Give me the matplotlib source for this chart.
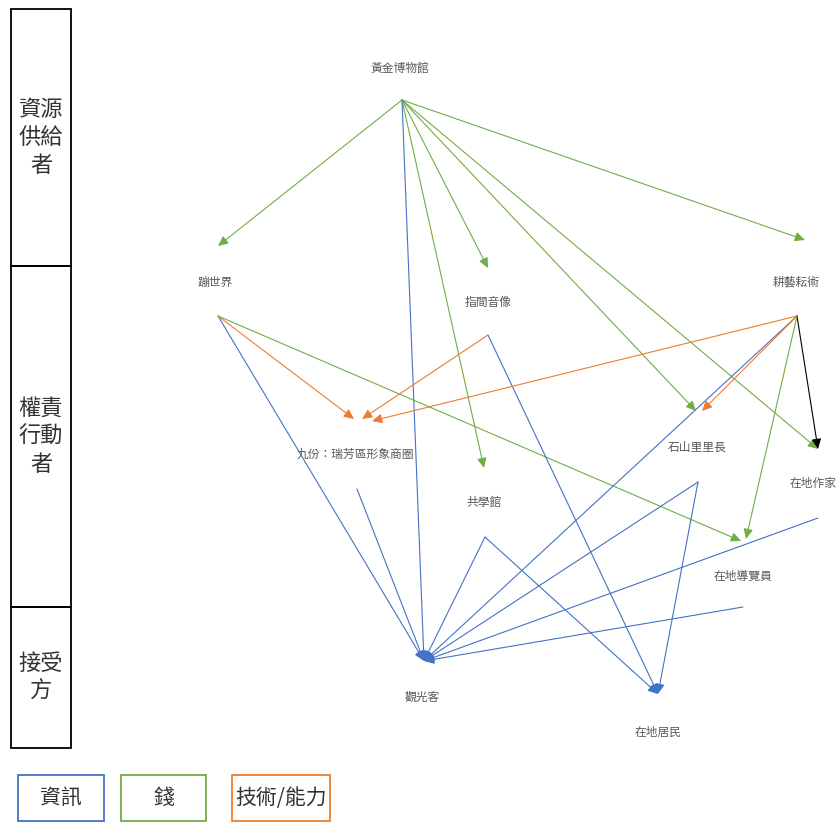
import matplotlib.pyplot as plt
from matplotlib.patches import FancyArrowPatch, Rectangle

plt.rcParams['font.family'] = ['Noto Sans CJK TC', 'DejaVu Sans']

# Nodes of the diagram
nodes = ['黃金博物館', '蹦世界', '指間音像', '耕藝耘術', '九份：瑞芳區形象商圈',
         '石山里里長', '在地作家', '共學館', '在地導覽員', '觀光客', '在地居民']

# Flows between nodes: (from, to, kind)
edges = [
    ('黃金博物館', '蹦世界', 'money'),
    ('黃金博物館', '指間音像', 'money'),
    ('黃金博物館', '共學館', 'money'),
    ('黃金博物館', '石山里里長', 'money'),
    ('黃金博物館', '在地作家', 'money'),
    ('黃金博物館', '耕藝耘術', 'money'),
    ('黃金博物館', '觀光客', 'info'),
    ('蹦世界', '觀光客', 'info'),
    ('蹦世界', '九份：瑞芳區形象商圈', 'skill'),
    ('蹦世界', '在地導覽員', 'money'),
    ('指間音像', '九份：瑞芳區形象商圈', 'skill'),
    ('指間音像', '在地居民', 'info'),
    ('耕藝耘術', '九份：瑞芳區形象商圈', 'skill'),
    ('耕藝耘術', '觀光客', 'info'),
    ('耕藝耘術', '石山里里長', 'skill'),
    ('耕藝耘術', '在地作家', 'other'),
    ('耕藝耘術', '在地導覽員', 'money'),
    ('九份：瑞芳區形象商圈', '觀光客', 'info'),
    ('共學館', '觀光客', 'info'),
    ('共學館', '在地居民', 'info'),
    ('石山里里長', '觀光客', 'info'),
    ('石山里里長', '在地居民', 'info'),
    ('在地作家', '觀光客', 'info'),
    ('在地導覽員', '觀光客', 'info'),
]

roles = ['資源\n供給\n者', '權責\n行動\n者', '接受\n方']
legend_labels = ['資訊', '錢', '技術/能力']

colors = {'info': '#4472C4', 'money': '#70AD47', 'skill': '#ED7D31', 'other': '#000000'}

# layout (pixel coordinates)
label_pos = {
    '黃金博物館': (400, 68), '蹦世界': (215, 282), '指間音像': (488, 302),
    '耕藝耘術': (796, 282), '九份：瑞芳區形象商圈': (355, 454), '石山里里長': (697, 447),
    '在地作家': (813, 483), '共學館': (484, 502), '在地導覽員': (743, 576),
    '觀光客': (422, 697), '在地居民': (658, 732),
}
src_pos = {
    '黃金博物館': (402, 100), '蹦世界': (218, 316), '指間音像': (488, 335),
    '耕藝耘術': (797, 316), '九份：瑞芳區形象商圈': (357, 489), '石山里里長': (698, 482),
    '在地作家': (818, 518), '共學館': (485, 537), '在地導覽員': (743, 607),
}
dst_pos = {
    '蹦世界': (218, 246), '指間音像': (488, 268), '耕藝耘術': (805, 240),
    '九份：瑞芳區形象商圈': (360, 419), '石山里里長': (698, 411), '在地作家': (818, 449),
    '共學館': (484, 468), '在地導覽員': (744, 541), '觀光客': (424, 661),
    '在地居民': (658, 694),
}
head_shift = {
    ('蹦世界', '九份：瑞芳區形象商圈'): (-6, 0),
    ('指間音像', '九份：瑞芳區形象商圈'): (2, 0),
    ('耕藝耘術', '九份：瑞芳區形象商圈'): (12, 2),
    ('耕藝耘術', '石山里里長'): (4, 0),
    ('黃金博物館', '石山里里長'): (-2, 0),
    ('蹦世界', '在地導覽員'): (-3, 0),
    ('耕藝耘術', '在地導覽員'): (2, -2),
}

W, H = 836, 823
fig = plt.figure(figsize=(W / 100, H / 100), dpi=100)
ax = fig.add_axes([0, 0, 1, 1])
ax.set_xlim(0, W)
ax.set_ylim(H, 0)
ax.axis('off')

# role column on the left
rows = [(9, 266), (266, 607), (607, 748)]
for (top, bottom), txt in zip(rows, roles):
    ax.add_patch(Rectangle((11, top), 60, bottom - top, fill=False, ec='#000000', lw=1.3))
    ax.text(41, (top + bottom) / 2, txt, ha='center', va='center', fontsize=16,
            color='#333333', linespacing=1.3, fontweight='light')

# legend boxes
legend_boxes = [(18, 104, 'info'), (121, 206, 'money'), (232, 330, 'skill')]
for (x0, x1, kind), txt in zip(legend_boxes, legend_labels):
    ax.add_patch(Rectangle((x0, 775), x1 - x0, 46, fill=False, ec=colors[kind], lw=1.3))
    ax.text((x0 + x1) / 2, 798, txt, ha='center', va='center', fontsize=15,
            color='#333333', fontweight='light')

# node labels
for n in nodes:
    x, y = label_pos[n]
    ax.text(x, y, n, ha='center', va='center', fontsize=8.5, color='#595959')

# flows
for src, dst, kind in edges:
    x0, y0 = src_pos[src]
    x1, y1 = dst_pos[dst]
    dx, dy = head_shift.get((src, dst), (0, 0))
    arr = FancyArrowPatch((x0, y0), (x1 + dx, y1 + dy),
                          arrowstyle='-|>,head_length=0.6,head_width=0.28',
                          mutation_scale=10, color=colors[kind], lw=0.8,
                          shrinkA=0, shrinkB=0)
    ax.add_patch(arr)

fig.savefig('out.png', dpi=100)
